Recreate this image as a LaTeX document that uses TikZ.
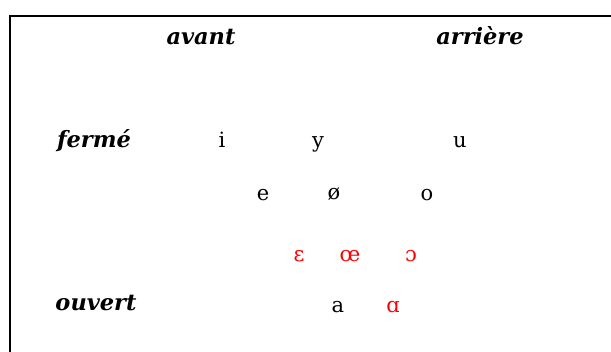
\documentclass[tikz,border=0pt]{standalone}
\usepackage{fontspec}
\newfontfamily\lblfont{DejaVu Serif}
\newfontfamily\ipafont{DejaVu Serif}
\begin{document}
\begin{tikzpicture}[x=1pt,y=-1pt,
  lbl/.style={font=\lblfont\bfseries\itshape\fontsize{22.5}{26}\selectfont, inner sep=0pt, anchor=base},
  vow/.style={font=\ipafont\fontsize{21}{24}\selectfont, inner sep=0pt, anchor=base},
  redvow/.style={vow, text=red}]
\useasboundingbox (0,0) rectangle (611,352);
\clip (0,0) rectangle (611,352);
\fill[white] (0,0) rectangle (611,352);
\draw[line width=2.4pt] (10,16) rectangle (630,380);
\node[lbl] (avant) at (201,45) {avant};
\node[lbl] (arriere) at (480,45) {arrière};
\node[lbl] (ferme) at (94,148) {fermé};
\node[lbl] (ouvert) at (96,311) {ouvert};
\node[vow] (i) at (222,148) {i};
\node[vow] (y) at (318,148) {y};
\node[vow] (u) at (460,148) {u};
\node[vow] (e) at (263,201) {e};
\node[vow] (oe) at (334,200) {ø};
\node[vow] (o) at (427,201) {o};
\node[redvow] (eps) at (299,262) {ɛ};
\node[redvow] (oelig) at (350,262) {œ};
\node[redvow] (oo) at (411,262) {ɔ};
\node[vow] (a) at (338,313) {a};
\node[redvow] (alpha) at (393,313) {ɑ};
\end{tikzpicture}
\end{document}
